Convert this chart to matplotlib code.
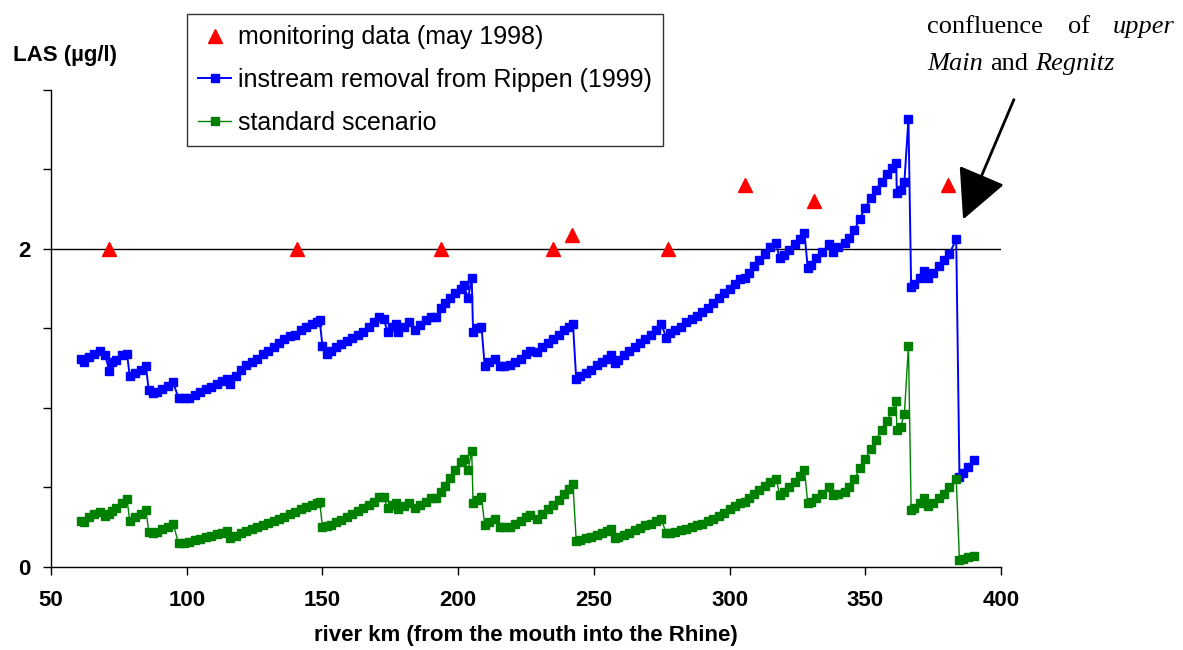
import numpy as np
import matplotlib
matplotlib.use("Agg")
import matplotlib.pyplot as plt

# river km of model nodes (shared by both scenarios)
km = [61, 62, 64, 66, 68, 70,
      71.5, 72.5, 74, 76, 78,
      79, 81, 83, 85,
      86, 87.5, 89, 91, 93, 95,
      97, 99, 101, 103, 105, 107, 109, 111, 113, 115,
      116, 118, 120, 122, 124, 126, 128, 130, 132, 134, 136, 138, 140, 142, 144, 146, 148, 149,
      150, 151.5, 153, 155, 157, 159, 161, 163, 165, 167, 169, 171, 172.5,
      174, 175.5, 177, 178, 180, 182, 184, 186, 188, 190, 192, 193.5, 195, 197, 199, 201, 202, 203.7, 205,
      205.5, 207, 208.6,
      209.8, 211.5, 213.5, 215.3, 217, 219, 221, 223, 225, 226.5, 229, 231, 233, 235, 237, 239, 241, 242.3,
      243.5, 245, 247, 249, 251, 253, 255, 256.4, 257.7, 259, 261, 263, 265, 267, 269, 271, 273, 274.8,
      276.7, 278, 280, 282, 284, 286, 288, 290, 292, 294, 296, 298, 300, 302, 303.7, 305.5, 307, 309, 311, 313, 315, 317.2,
      318.4, 320, 322, 324, 326, 327.6,
      328.8, 330, 332, 334, 336.8, 338, 340, 342.4, 344, 346, 348, 350, 352, 354, 356, 358, 360, 361.4,
      361.6, 363, 364.4, 365.9,
      366.9, 368, 370, 371.8, 373, 375, 377, 379, 381, 383.5,
      384.7, 386, 388, 390.2]

# instream removal from Rippen (1999)
las_rippen = [1.31, 1.29, 1.32, 1.34, 1.36, 1.33,
              1.23, 1.29, 1.30, 1.33, 1.34,
              1.20, 1.22, 1.24, 1.26,
              1.11, 1.09, 1.10, 1.12, 1.14, 1.16,
              1.06, 1.06, 1.06, 1.08, 1.10, 1.12, 1.13, 1.15, 1.17, 1.18,
              1.15, 1.20, 1.24, 1.27, 1.29, 1.31, 1.34, 1.36, 1.38, 1.41, 1.43, 1.45, 1.46, 1.49, 1.51, 1.53, 1.54, 1.55,
              1.39, 1.34, 1.36, 1.38, 1.40, 1.42, 1.44, 1.46, 1.48, 1.51, 1.54, 1.57, 1.56,
              1.48, 1.51, 1.53, 1.48, 1.51, 1.54, 1.49, 1.52, 1.55, 1.57, 1.57, 1.63, 1.66, 1.69, 1.72, 1.75, 1.77, 1.69, 1.82,
              1.48, 1.50, 1.51,
              1.26, 1.29, 1.31, 1.26, 1.26, 1.27, 1.29, 1.31, 1.34, 1.36, 1.35, 1.38, 1.41, 1.43, 1.46, 1.49, 1.51, 1.53,
              1.18, 1.20, 1.22, 1.24, 1.27, 1.29, 1.31, 1.33, 1.28, 1.30, 1.33, 1.36, 1.38, 1.41, 1.43, 1.46, 1.49, 1.53,
              1.44, 1.47, 1.49, 1.51, 1.54, 1.56, 1.58, 1.60, 1.63, 1.66, 1.69, 1.72, 1.75, 1.78, 1.81, 1.82, 1.85, 1.89, 1.93, 1.97, 2.01, 2.04,
              1.94, 1.96, 1.99, 2.03, 2.06, 2.10,
              1.88, 1.90, 1.94, 1.98, 2.03, 1.98, 2.01, 2.04, 2.07, 2.12, 2.19, 2.26, 2.32, 2.37, 2.42, 2.47, 2.51, 2.54,
              2.35, 2.37, 2.42, 2.82,
              1.76, 1.78, 1.82, 1.86, 1.82, 1.85, 1.89, 1.93, 1.97, 2.06,
              0.565, 0.59, 0.63, 0.67]

# standard scenario
las_standard = [0.29, 0.28, 0.31, 0.33, 0.345, 0.32,
                0.33, 0.35, 0.37, 0.40, 0.425,
                0.29, 0.31, 0.33, 0.356,
                0.22, 0.21, 0.22, 0.235, 0.25, 0.27,
                0.147, 0.15, 0.155, 0.165, 0.175, 0.185, 0.195, 0.205, 0.215, 0.225,
                0.18, 0.195, 0.21, 0.225, 0.24, 0.25, 0.265, 0.275, 0.29, 0.30, 0.315, 0.33, 0.345, 0.36, 0.375, 0.39, 0.40, 0.41,
                0.25, 0.255, 0.265, 0.28, 0.295, 0.31, 0.33, 0.35, 0.37, 0.39, 0.41, 0.44, 0.44,
                0.37, 0.39, 0.40, 0.36, 0.38, 0.40, 0.37, 0.39, 0.41, 0.43, 0.43, 0.47, 0.51, 0.56, 0.61, 0.66, 0.68, 0.61, 0.73,
                0.40, 0.42, 0.44,
                0.26, 0.28, 0.30, 0.25, 0.25, 0.25, 0.27, 0.29, 0.31, 0.325, 0.30, 0.33, 0.36, 0.39, 0.42, 0.46, 0.49, 0.52,
                0.163, 0.17, 0.18, 0.19, 0.20, 0.215, 0.225, 0.235, 0.18, 0.19, 0.20, 0.215, 0.23, 0.245, 0.26, 0.27, 0.285, 0.30,
                0.21, 0.215, 0.22, 0.23, 0.24, 0.25, 0.26, 0.27, 0.285, 0.30, 0.32, 0.34, 0.36, 0.38, 0.40, 0.41, 0.43, 0.455, 0.48, 0.505, 0.53, 0.555,
                0.45, 0.47, 0.50, 0.53, 0.57, 0.61,
                0.40, 0.41, 0.43, 0.455, 0.50, 0.45, 0.46, 0.47, 0.50, 0.55, 0.62, 0.68, 0.74, 0.80, 0.86, 0.92, 0.98, 1.04,
                0.86, 0.88, 0.96, 1.39,
                0.356, 0.37, 0.40, 0.43, 0.38, 0.40, 0.43, 0.46, 0.50, 0.555,
                0.04, 0.05, 0.06, 0.07]

# monitoring data (may 1998)
mon_km = [71.4, 140.6, 193.6, 234.8, 241.8, 277.2, 305.6, 331, 380.4]
mon_las = [2.0, 2.0, 2.0, 2.0, 2.09, 2.0, 2.40, 2.30, 2.40]

xticks = [50, 100, 150, 200, 250, 300, 350, 400]
yticks = [0, 0.5, 1, 1.5, 2, 2.5, 3]
ytick_labels = ['0', '', '', '', '2', '', '']

plt.rcParams['font.family'] = ['Liberation Sans', 'DejaVu Sans']

fig = plt.figure(figsize=(11.83, 6.5), dpi=100)
ax = fig.add_axes([51/1183, 1 - 566.7/650, 950/1183, 476.7/650])

ax.axhline(2, color='black', lw=1, zorder=1)

l_mon, = ax.plot(mon_km, mon_las, linestyle='none', marker='^', color='#ff0000',
                 markersize=10, label='monitoring data (may 1998)', zorder=3)
l_rip, = ax.plot(km, las_rippen, color='#0000ff', lw=1.4, marker='s', markersize=6,
                 label='instream removal from Rippen (1999)', zorder=2)
l_std, = ax.plot(km, las_standard, color='#008000', lw=1.0, marker='s', markersize=6,
                 label='standard scenario', zorder=2)

ax.set_xlim(50, 400)
ax.set_ylim(0, 3)
ax.set_xticks(xticks)
ax.set_xticklabels([str(v) for v in xticks])
ax.set_yticks(yticks)
ax.set_yticklabels(ytick_labels)
ax.tick_params(direction='out', length=6, width=1, labelsize=16)
ax.tick_params(axis='x', pad=11)
ax.tick_params(axis='y', pad=9)
for lab in ax.get_xticklabels() + ax.get_yticklabels():
    lab.set_fontweight('bold')
ax.spines['top'].set_visible(False)
ax.spines['right'].set_visible(False)
ax.spines['left'].set_linewidth(1)
ax.spines['bottom'].set_linewidth(1)

ax.set_xlabel('river km (from the mouth into the Rhine)', fontsize=16, fontweight='bold', labelpad=10)
fig.text(13/1183, 1 - 56/650, 'LAS (µg/l)', fontsize=16, fontweight='bold', va='center', ha='left')

leg = fig.legend(handles=[l_mon, l_rip, l_std], loc='upper left',
                 bbox_to_anchor=(187/1183, 1 - 14/650), borderaxespad=0,
                 fontsize=18, frameon=True, fancybox=False, handlelength=1.3,
                 handletextpad=0.3, labelspacing=0.75, borderpad=0.45)
leg.get_frame().set_edgecolor('black')
leg.get_frame().set_linewidth(1)

# annotation text (justified in the original)
serif = ['Liberation Serif', 'DejaVu Serif']
words = [(927, 27, 'confluence', 'normal'), (1068, 27, 'of', 'normal'),
         (1113, 27, 'upper', 'italic'),
         (927, 64, 'Main', 'italic'), (990, 64, 'and', 'normal'),
         (1035, 64, 'Regnitz', 'italic')]
for x, y, w, st in words:
    fig.text(x/1183, 1 - y/650, w, fontsize=19, family=serif, style=st,
             ha='left', va='center')

ax.annotate('', xy=(962, 650 - 222), xycoords='figure pixels',
            xytext=(1015, 650 - 97), textcoords='figure pixels',
            arrowprops=dict(arrowstyle='-|>,head_length=1.3,head_width=0.65',
                            mutation_scale=24, color='black', lw=2))

fig.savefig('out.png', dpi=100)
